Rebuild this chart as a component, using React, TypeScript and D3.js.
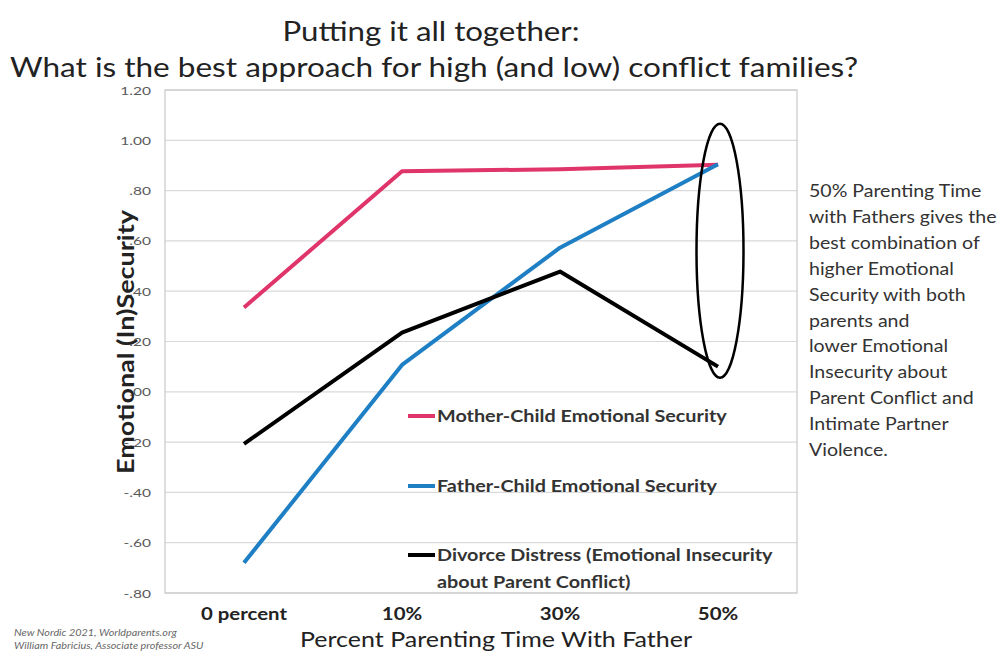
import React from 'react'
import * as d3 from 'd3'

const categories = ['0 percent', '10%', '30%', '50%']
const motherChild = [0.335, 0.877, 0.885, 0.903]
const fatherChild = [-0.68, 0.107, 0.573, 0.905]
const divorceDistress = [-0.207, 0.235, 0.478, 0.1]
const yTicks = [-0.8, -0.6, -0.4, -0.2, 0, 0.2, 0.4, 0.6, 0.8, 1.0, 1.2]

const series = [
  { name: 'Mother-Child Emotional Security', lines: ['Mother-Child Emotional Security'], values: motherChild, color: '#e0356b' },
  { name: 'Father-Child Emotional Security', lines: ['Father-Child Emotional Security'], values: fatherChild, color: '#1e7fc4' },
  { name: 'Divorce Distress', lines: ['Divorce Distress (Emotional Insecurity', 'about Parent Conflict)'], values: divorceDistress, color: '#000000' },
]

const noteLines = [
  '50% Parenting Time',
  'with Fathers gives the',
  'best combination of',
  'higher Emotional',
  'Security with both',
  'parents and',
  'lower Emotional',
  'Insecurity about',
  'Parent Conflict and',
  'Intimate Partner',
  'Violence.',
]

const footnotes = ['New Nordic 2021, Worldparents.org', 'William Fabricius, Associate professor ASU']

const W = 1006
const H = 651
const PLOT = { left: 165, right: 797, top: 90, bottom: 593 }
const FONT = 'Lato, "Open Sans", sans-serif'

function fmtTick(v: number) {
  if (Math.abs(v) >= 1) return v.toFixed(2)
  const s = Math.abs(v).toFixed(2).slice(1)
  return v < 0 ? '-' + s : s
}

// the slide is stretched sideways, so its text is too
function Wide({ x, y, sx = 1.2, children, ...rest }: any) {
  return (
    <text transform={`translate(${x},${y}) scale(${sx},1)`} fontFamily={FONT} {...rest}>
      {children}
    </text>
  )
}

export default function App() {
  const x = d3.scalePoint<string>().domain(categories).range([PLOT.left, PLOT.right]).padding(0.5)
  const y = d3.scaleLinear().domain([-0.8, 1.2]).range([PLOT.bottom, PLOT.top])

  const line = d3
    .line<number>()
    .x((_, i) => x(categories[i]) as number)
    .y((d) => y(d))

  const legendY = [416, 486, 555]
  const x50 = x('50%') as number

  return (
    <svg width={W} height={H} style={{ position: 'absolute', left: 0, top: 0, background: '#fff' }}>
      {/* title */}
      <text x={431} y={41} textAnchor="middle" fontFamily={FONT} fontSize={26} fill="#222" textLength={297} lengthAdjust="spacingAndGlyphs">
        Putting it all together:
      </text>
      <text x={434} y={77} textAnchor="middle" fontFamily={FONT} fontSize={26} fill="#222" textLength={848} lengthAdjust="spacingAndGlyphs">
        What is the best approach for high (and low) conflict families?
      </text>

      {/* grid */}
      {yTicks.map((t) => (
        <line key={t} x1={PLOT.left} x2={PLOT.right} y1={y(t)} y2={y(t)} stroke="#d9d9d9" strokeWidth={1.2} />
      ))}
      <rect x={PLOT.left} y={PLOT.top} width={PLOT.right - PLOT.left} height={PLOT.bottom - PLOT.top} fill="none" stroke="#c8c8c8" strokeWidth={1.2} />

      {/* y ticks */}
      {yTicks.map((t) => (
        <Wide key={t} x={151} y={y(t) + 4.5} sx={1.35} textAnchor="end" fontSize={11.5} fill="#595959">
          {fmtTick(t)}
        </Wide>
      ))}

      {/* x labels */}
      {categories.map((c) => (
        <Wide key={c} x={x(c)} y={620} textAnchor="middle" fontSize={17} fontWeight="bold" fill="#222">
          {c}
        </Wide>
      ))}

      {/* axis titles */}
      <text
        transform={`translate(134,342) rotate(-90)`}
        textAnchor="middle"
        fontFamily={FONT}
        fontSize={23}
        fontWeight="bold"
        fill="#222"
        textLength={264}
        lengthAdjust="spacingAndGlyphs"
      >
        Emotional (In)Security
      </text>
      <text x={496} y={647} textAnchor="middle" fontFamily={FONT} fontSize={21} fill="#222" textLength={392} lengthAdjust="spacingAndGlyphs">
        Percent Parenting Time With Father
      </text>

      {/* series */}
      {series.map((s) => (
        <path key={s.name} d={line(s.values) || ''} fill="none" stroke={s.color} strokeWidth={4} strokeLinejoin="round" />
      ))}

      {/* legend */}
      {series.map((s, i) => (
        <g key={s.name}>
          <line x1={408} x2={435} y1={legendY[i]} y2={legendY[i]} stroke={s.color} strokeWidth={4} />
          {s.lines.map((l, j) => (
            <Wide key={l} x={437} y={legendY[i] + 6 + j * 27} fontSize={16.5} fontWeight="bold" fill="#333">
              {l}
            </Wide>
          ))}
        </g>
      ))}

      {/* highlight ellipse */}
      <ellipse cx={x50 + 2} cy={(y(1.066) + y(0.056)) / 2} rx={23.5} ry={(y(0.056) - y(1.066)) / 2} fill="none" stroke="#000" strokeWidth={2.5} />

      {/* side note */}
      {noteLines.map((l, i) => (
        <Wide key={l} x={809} y={197 + i * 25.9} sx={1.15} fontSize={17} fill="#333">
          {l}
        </Wide>
      ))}

      {/* footnote */}
      {footnotes.map((f, i) => (
        <Wide key={f} x={14} y={636 + i * 13} fontSize={9} fontStyle="italic" fill="#666">
          {f}
        </Wide>
      ))}
    </svg>
  )
}
